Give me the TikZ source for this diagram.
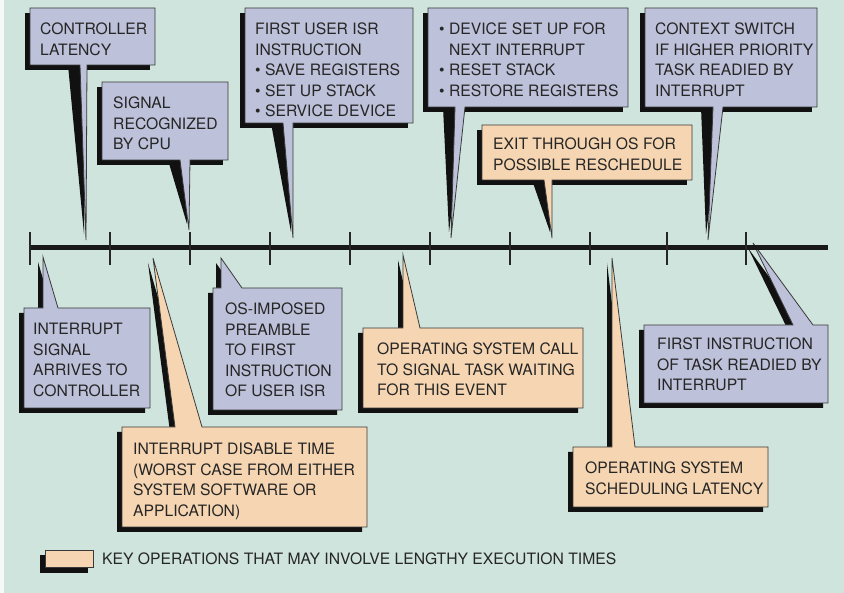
\documentclass[tikz,border=0pt]{standalone}
\usepackage{fontspec}
\setmainfont{TeX Gyre Heros}
\definecolor{bgmint}{HTML}{CFE4DC}
\definecolor{boxblue}{HTML}{BDC1D9}
\definecolor{boxpeach}{HTML}{F6D6B2}
\definecolor{boxline}{HTML}{3A3A3A}
\definecolor{txtgray}{HTML}{262626}
\definecolor{shadowc}{HTML}{111111}
\tikzset{
  bluebox/.style={fill=boxblue, draw=boxline, line width=0.8pt, line join=miter},
  peachbox/.style={fill=boxpeach, draw=boxline, line width=0.8pt, line join=miter},
  shadowfill/.style={fill=shadowc},
  txt/.style={anchor=north west, inner sep=0pt, align=left, text=txtgray,
    font=\fontsize{15.7}{20.5}\selectfont},
  tickline/.style={draw=black!85, line width=1.1pt},
  timeline/.style={draw=black!90, line width=5pt}
}
% top callout: box x1 y1 x2 y2, pointer base a b, tip tx ty, style
\newcommand\topcall[9]{%
  \fill[shadowfill] ({#1-5},{#2+5}) rectangle ({#3-5},{#4+5});
  \fill[shadowfill] ({#5-12},#4) -- (#6,#4) -- ({#7-2},{#8-6}) -- cycle;
  \draw[#9] (#1,#2) -- (#3,#2) -- (#3,#4) -- (#6,#4) -- (#7,#8) -- (#5,#4) -- (#1,#4) -- cycle;
}
% bottom callout: box x1 y1 x2 y2, pointer base a b, tip tx ty, style
\newcommand\botcall[9]{%
  \fill[shadowfill, shift={(-5,5)}] (#1,#2) -- (#5,#2) -- (#7,#8) -- (#6,#2) -- (#3,#2) -- (#3,#4) -- (#1,#4) -- cycle;
  \draw[#9] (#1,#2) -- (#5,#2) -- (#7,#8) -- (#6,#2) -- (#3,#2) -- (#3,#4) -- (#1,#4) -- cycle;
}
\begin{document}
\begin{tikzpicture}[x=1pt,y=-1pt]
\useasboundingbox (0,0) rectangle (844,593);
\fill[bgmint] (0,0) rectangle (844,593);
\fill[white!80!bgmint] (0,0) rectangle (4,593);

% top callouts
\topcall{30}{8}{155}{65}{80}{87}{86}{240}{bluebox}
\topcall{102}{82}{228}{160}{180}{190}{189}{230}{bluebox}
\topcall{245}{8}{413}{123}{283}{293}{293}{238}{bluebox}
\topcall{428}{8}{628}{107}{455}{465}{451}{238}{bluebox}
\topcall{482}{125}{692}{180}{544}{552}{552}{238}{peachbox}
\topcall{645}{8}{817}{107}{713}{723}{708}{240}{bluebox}

% bottom callouts
\botcall{24}{308}{150}{408}{43}{58}{43}{257}{bluebox}
\botcall{213}{288}{342}{410}{221}{242}{221}{258}{bluebox}
\botcall{363}{328}{583}{408}{403}{420}{403}{255}{peachbox}
\botcall{644}{325}{828}{403}{793}{813}{753}{243}{bluebox}
\botcall{573}{447}{768}{507}{612}{635}{612}{258}{peachbox}
\botcall{122}{427}{367}{527}{175}{202}{153}{258}{peachbox}

% timeline
\coordinate (tlstart) at (30,248);
\coordinate (tlend) at (828,248);
\draw[timeline] (tlstart) -- (tlend);
\foreach \tx in {30,110,190,270,350,430,510,590,667,746}
  \draw[tickline] (\tx,232) -- (\tx,265);

% texts
\node[txt] (c1) at (40,23) {CONTROLLER\\LATENCY};
\node[txt] (c2) at (113,97) {SIGNAL\\RECOGNIZED\\BY CPU};
\node[txt] (c3) at (255,23) {FIRST USER ISR\\INSTRUCTION\\• SAVE REGISTERS\\• SET UP STACK\\• SERVICE DEVICE};
\node[txt] (c4) at (439,23) {• DEVICE SET UP FOR\\\phantom{• }NEXT INTERRUPT\\• RESET STACK\\• RESTORE REGISTERS};
\node[txt] (c5) at (493,138) {EXIT THROUGH OS FOR\\POSSIBLE RESCHEDULE};
\node[txt] (c6) at (655,23) {CONTEXT SWITCH\\IF HIGHER PRIORITY\\TASK READIED BY\\INTERRUPT};
\node[txt] (c7) at (33,323) {INTERRUPT\\SIGNAL\\ARRIVES TO\\CONTROLLER};
\node[txt] (c8) at (133,443) {INTERRUPT DISABLE TIME\\(WORST CASE FROM EITHER\\SYSTEM SOFTWARE OR\\APPLICATION)};
\node[txt] (c9) at (225,303) {OS-IMPOSED\\PREAMBLE\\TO FIRST\\INSTRUCTION\\OF USER ISR};
\node[txt] (c10) at (377,343) {OPERATING SYSTEM CALL\\TO SIGNAL TASK WAITING\\FOR THIS EVENT};
\node[txt] (c11) at (657,338) {FIRST INSTRUCTION\\OF TASK READIED BY\\INTERRUPT};
\node[txt] (c12) at (585,462) {OPERATING SYSTEM\\SCHEDULING LATENCY};

% legend
\fill[shadowfill] (40,555) rectangle (88,573);
\draw[peachbox] (45,550) rectangle (93,567);
\node[txt, anchor=west] (legend) at (102,559) {KEY OPERATIONS THAT MAY INVOLVE LENGTHY EXECUTION TIMES};
\end{tikzpicture}
\end{document}
